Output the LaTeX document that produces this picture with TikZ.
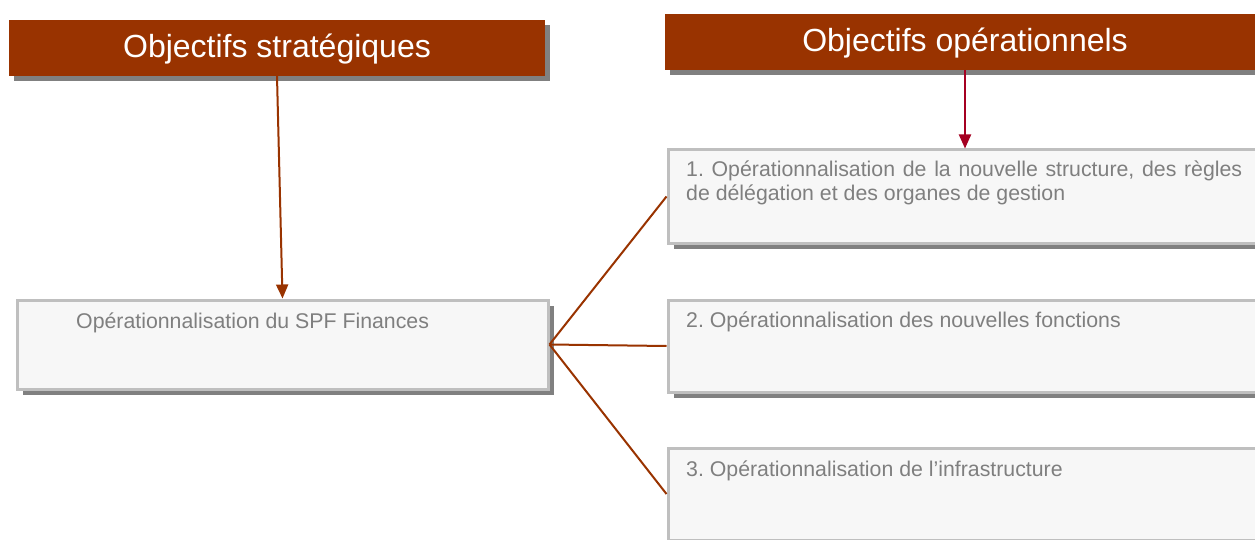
\documentclass[tikz,border=0pt]{standalone}
\usepackage{fontspec}
\setmainfont{Liberation Sans}
\usetikzlibrary{arrows.meta,shadows}
\definecolor{headbrown}{HTML}{993300}
\definecolor{opcrimson}{HTML}{A50021}
\definecolor{boxfill}{HTML}{F7F7F7}
\definecolor{boxline}{HTML}{BFBFBF}
\definecolor{shadowgray}{HTML}{808080}
\definecolor{textgray}{HTML}{7F7F7F}
\frenchspacing
\begin{document}
\begin{tikzpicture}[x=1pt,y=-1pt,
	header/.style={fill=headbrown,text=white,font=\fontsize{32}{38}\selectfont,inner sep=0pt,text height=26pt,text depth=6pt,minimum height=56pt,drop shadow={shadow xshift=5pt,shadow yshift=-5pt,fill=shadowgray,opacity=1}},
	objbox/.style={draw=boxline,line width=3pt,fill=boxfill,inner sep=0pt,anchor=north west,drop shadow={shadow xshift=5.5pt,shadow yshift=-5.5pt,fill=shadowgray,opacity=1}},
	boxtext/.style={text=textgray,font=\fontsize{21.3}{24}\selectfont,inner sep=0pt,anchor=base west},
	link/.style={draw=headbrown,line width=2pt},
	arr/.style={line width=2pt,-{Triangle[width=12pt,length=14pt]}}]
			\useasboundingbox (0,0) rectangle (1255,540);
			\clip (0,0) rectangle (1255,540);
			\node[header,minimum width=536pt] (hs) at (277,48) {Objectifs stratégiques};
			\node[header,minimum width=600pt] (ho) at (965,42) {Objectifs opérationnels};
			
			\node[objbox,minimum width=531pt,minimum height=89pt] (lb) at (15.5,298.5) {};
			\node[objbox,minimum width=640pt,minimum height=93pt] (op1) at (666.5,148.5) {};
			\node[objbox,minimum width=640pt,minimum height=92pt] (op2) at (666.5,298.5) {};
			\node[objbox,minimum width=640pt,minimum height=92pt] (op3) at (666.5,446.5) {};
			
			\node[boxtext] (lbt) at (76,328) {Opérationnalisation du SPF Finances};
			\node[boxtext,text width=556pt,align=justify] (op1t) at (686,177) {1. Opérationnalisation de la nouvelle structure, des règles\linebreak de délégation et des organes de gestion};
			\node[boxtext] (op2t) at (686,327) {2. Opérationnalisation des nouvelles fonctions};
			\node[boxtext] (op3t) at (686,476) {3. Opérationnalisation de l’infrastructure};
			
			\draw[arr,headbrown] (hs.south) -- (lb.north);
			\draw[arr,opcrimson] (ho.south) -- (ho.south |- op1.north);
			\draw[link] (lb.east) -- (op1.west);
			\draw[link] (lb.east) -- (op2.west);
			\draw[link] (lb.east) -- (op3.west);
			\end{tikzpicture}
\end{document}
